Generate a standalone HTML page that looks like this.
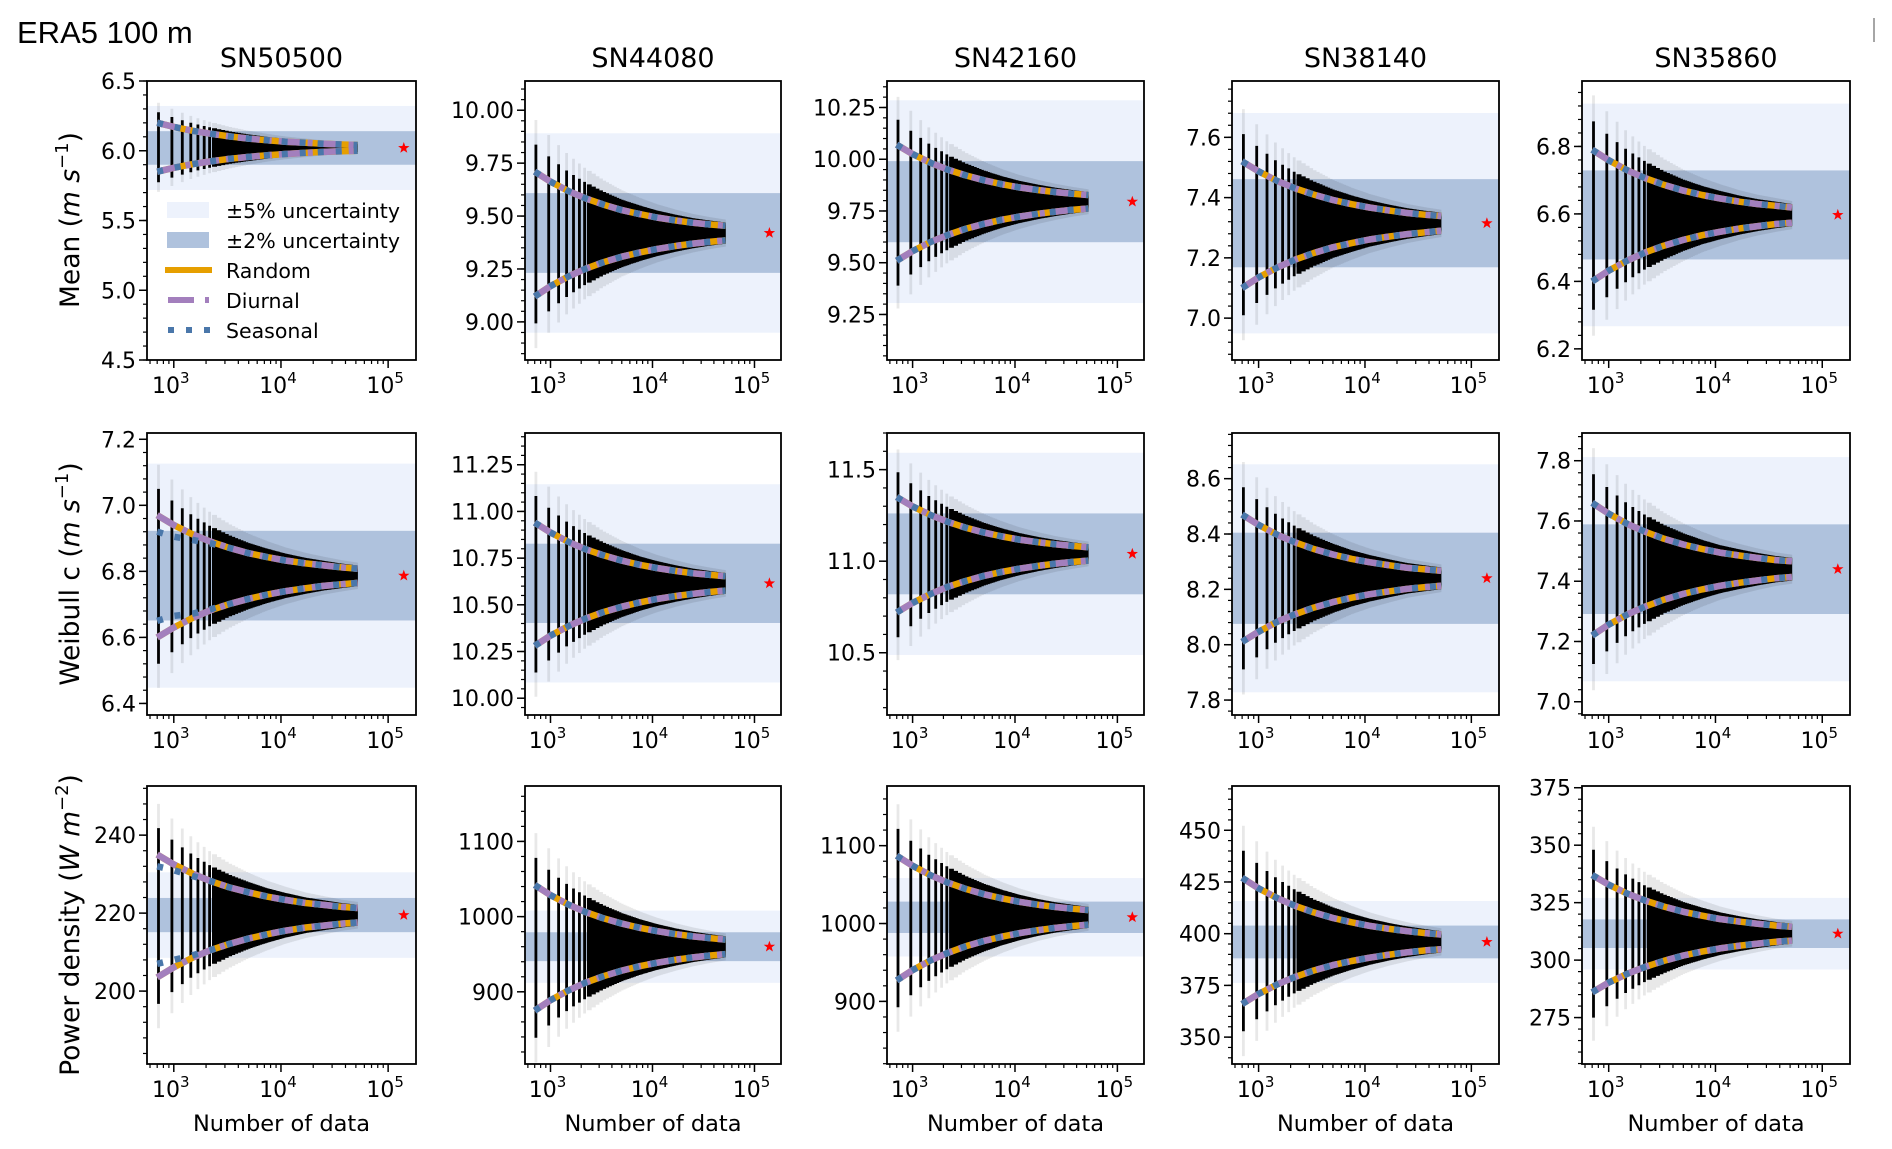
<!DOCTYPE html>
<html><head><meta charset="utf-8">
<style>
html,body{margin:0;padding:0;background:#fff;}
svg{display:block;font-family:"DejaVu Sans","Liberation Sans",sans-serif;}
</style></head>
<body>
<svg id="fig" xmlns="http://www.w3.org/2000/svg" width="1892" height="1149" viewBox="0 0 1892 1149">
<rect x="0" y="0" width="1892" height="1149" fill="#fff"/>
<text x="17" y="43" font-family="Liberation Sans, sans-serif" font-size="31" fill="#000">ERA5 100 m</text>
<line x1="1874" y1="18" x2="1874" y2="42" stroke="#888" stroke-width="1.5"/>
</svg>
<script>
// ---- data ----
const sampleN = [700,1000,1500,2200,3300,5000,7500,11000,17000,25000,37000,52000];
const stations = ["SN50500","SN44080","SN42160","SN38140","SN35860"];
const refMean = [6.02,9.42,9.795,7.315,6.597];
const refWeib = [6.787,10.615,11.04,8.24,7.44];
const refPow = [219.5,960,1008,396,311.5];
const meanUp = [
 [6.200,6.171,6.143,6.122,6.103,6.087,6.075,6.065,6.057,6.050,6.045,6.041],
 [9.710,9.663,9.618,9.584,9.554,9.528,9.509,9.493,9.479,9.468,9.460,9.454],
 [10.070,10.025,9.983,9.950,9.922,9.898,9.879,9.864,9.851,9.841,9.833,9.827],
 [7.520,7.487,7.455,7.431,7.410,7.392,7.378,7.367,7.357,7.349,7.343,7.339],
 [6.790,6.759,6.729,6.706,6.686,6.669,6.656,6.646,6.636,6.629,6.624,6.619]];
const meanLo = [
 [5.850,5.878,5.904,5.924,5.942,5.956,5.968,5.977,5.985,5.992,5.997,6.000],
 [9.120,9.169,9.215,9.251,9.282,9.308,9.328,9.344,9.359,9.370,9.379,9.385],
 [9.510,9.556,9.600,9.634,9.664,9.688,9.708,9.723,9.737,9.747,9.756,9.762],
 [7.100,7.135,7.168,7.194,7.216,7.235,7.249,7.261,7.271,7.279,7.285,7.290],
 [6.400,6.432,6.462,6.486,6.506,6.523,6.537,6.547,6.557,6.564,6.570,6.574]];
const weibUp = [
 [6.970,6.940,6.912,6.890,6.871,6.855,6.843,6.833,6.824,6.818,6.812,6.808],
 [10.940,10.887,10.837,10.798,10.765,10.737,10.714,10.697,10.681,10.669,10.660,10.653],
 [11.350,11.299,11.252,11.215,11.183,11.156,11.135,11.118,11.103,11.092,11.083,11.076],
 [8.470,8.433,8.397,8.370,8.346,8.326,8.310,8.298,8.287,8.278,8.272,8.267],
 [7.660,7.624,7.590,7.564,7.541,7.522,7.507,7.495,7.485,7.477,7.470,7.466]];
const weibLo = [
 [6.600,6.630,6.659,6.682,6.701,6.717,6.730,6.740,6.749,6.756,6.761,6.765],
 [10.280,10.335,10.386,10.426,10.461,10.490,10.513,10.531,10.547,10.559,10.569,10.576],
 [10.720,10.772,10.821,10.860,10.892,10.920,10.942,10.959,10.975,10.987,10.996,11.003],
 [8.010,8.047,8.083,8.110,8.134,8.154,8.170,8.182,8.193,8.202,8.208,8.213],
 [7.220,7.256,7.290,7.316,7.339,7.358,7.373,7.385,7.395,7.403,7.410,7.414]];
const powUp = [
 [235.0,232.5,230.1,228.2,226.6,225.3,224.2,223.4,222.6,222.1,221.6,221.3],
 [1042,1028.6,1016,1006.2,997.8,990.7,985.1,980.7,976.6,973.7,971.3,969.5],
 [1087,1074.1,1062,1052.6,1044.4,1037.5,1032.2,1027.9,1024,1021.2,1018.9,1017.2],
 [427,421.9,417.2,413.5,410.3,407.6,405.5,403.8,402.3,401.2,400.3,399.6],
 [337,332.8,328.9,325.9,323.3,321.0,319.3,317.9,316.7,315.8,315.0,314.5]];
const powLo = [
 [203.5,206.1,208.6,210.5,212.1,213.5,214.6,215.5,216.3,216.8,217.3,217.6],
 [875,888.9,901.9,912.1,920.8,928.2,934.0,938.6,942.7,945.8,948.3,950.1],
 [927,940.2,952.7,962.3,970.7,977.7,983.2,987.6,991.6,994.5,996.8,998.6],
 [366,370.9,375.5,379.1,382.2,384.8,386.8,388.4,389.9,391,391.9,392.5],
 [286,290.2,294.1,297.1,299.7,302,303.7,305.1,306.3,307.2,308,308.5]];
const seasWeibUp0 = [6.920,6.905,6.895,6.885,6.871,6.855,6.843,6.833,6.824,6.818,6.812,6.808];
const seasWeibLo0 = [6.650,6.665,6.672,6.685,6.701,6.717,6.730,6.740,6.749,6.756,6.761,6.765];
const seasPowUp0 = [232,231,229.5,228.2,226.6,225.3,224.2,223.4,222.6,222.1,221.6,221.3];
const seasPowLo0 = [207,208,209.2,210.5,212.1,213.5,214.6,215.5,216.3,216.8,217.3,217.6];
const starN = 140000;
const ticksMean = [[4.5,5,5.5,6,6.5],[9,9.25,9.5,9.75,10],[9.25,9.5,9.75,10,10.25],[7,7.2,7.4,7.6],[6.2,6.4,6.6,6.8]];
const ticksWeib = [[6.4,6.6,6.8,7,7.2],[10,10.25,10.5,10.75,11,11.25],[10.5,11,11.5],[7.8,8,8.2,8.4,8.6],[7,7.2,7.4,7.6,7.8]];
const ticksPow = [[200,220,240],[900,1000,1100],[900,1000,1100],[350,375,400,425,450],[275,300,325,350,375]];
const decMean = [1,2,2,1,1], decWeib = [1,2,1,1,1], decPow = [0,0,0,0,0];
const limMean = [[4.5,6.5],[8.82,10.138],[9.03,10.378],[6.861,7.787],[6.167,6.994]];
const limWeib = [[6.365,7.219],[9.91,11.42],[10.16,11.70],[7.746,8.765],[6.956,7.892]];
const limPow = [[181.3,252.6],[804,1173.7],[819.6,1176.6],[337,471.4],[254.8,375.75]];
const xTicks = [3,4,5];

// ---- layout ----
const colX = [[147,416],[525,781],[887,1144],[1232,1499],[1582,1850]];
const rowY = [[81,360],[433,715],[786,1064]];
const XLOG = [2.75,5.26];
const NS = "http://www.w3.org/2000/svg";
const svg = document.getElementById('fig');
function mk(tag, attrs, parent){const e=document.createElementNS(NS,tag);for(const k in attrs)e.setAttribute(k,attrs[k]);(parent||svg).appendChild(e);return e;}

const rows = [
 {ref:refMean, up:meanUp, lo:meanLo, ticks:ticksMean, dec:decMean, lim:limMean, name:'mean'},
 {ref:refWeib, up:weibUp, lo:weibLo, ticks:ticksWeib, dec:decWeib, lim:limWeib, name:'weibull-c'},
 {ref:refPow, up:powUp, lo:powLo, ticks:ticksPow, dec:decPow, lim:limPow, name:'power-density'}];

function interp(arr, n){
  const ln=Math.log10(n);
  if(n<=sampleN[0])return arr[0];
  for(let i=1;i<sampleN.length;i++){
    if(n<=sampleN[i]){const a=Math.log10(sampleN[i-1]),b=Math.log10(sampleN[i]);const t=(ln-a)/(b-a);return arr[i-1]+(arr[i]-arr[i-1])*t;}
  }
  return arr[arr.length-1];
}

rows.forEach((R,ri)=>{
 for(let ci=0;ci<5;ci++){
  const [x0,x1]=colX[ci],[y0,y1]=rowY[ri];
  const [ymin,ymax]=R.lim[ci];
  const xs=v=>x0+(Math.log10(v)-XLOG[0])/(XLOG[1]-XLOG[0])*(x1-x0);
  const ys=v=>y1-(v-ymin)/(ymax-ymin)*(y1-y0);
  const g=mk('g',{});
  
  
  const clipId='c'+ri+ci;
  const cp=mk('clipPath',{id:clipId},g);mk('rect',{x:x0,y:y0,width:x1-x0,height:y1-y0},cp);
  const inner=mk('g',{'clip-path':'url(#'+clipId+')'},g);
  const ref=R.ref[ci];
  const b5=mk('rect',{x:x0,y:ys(ref*1.05),width:x1-x0,height:ys(ref*0.95)-ys(ref*1.05),fill:'#edf2fc'},inner);
  
  
  const b2=mk('rect',{x:x0,y:ys(ref*1.02),width:x1-x0,height:ys(ref*0.98)-ys(ref*1.02),fill:'#afc2dd'},inner);
  
  
  const up=R.up[ci], lo=R.lo[ci];
  const cloud=mk('g',{},inner);
  
  
  let tail='',core='';
  for(let n=720;n<=sampleN[sampleN.length-1];n+=240){
    const u=interp(up,n),l=interp(lo,n);const c=(u+l)/2,h=(u-l)/2;
    const x=xs(n);
    const sp=xs(n+240)-x;
    const w = sp>4.5?2.8:sp+0.6;
    tail+=`M${(x-w/2).toFixed(1)},${ys(c+h*1.85).toFixed(1)}V${ys(c-h*1.85).toFixed(1)}h${w.toFixed(1)}V${ys(c+h*1.85).toFixed(1)}Z`;
    core+=`M${(x-w/2).toFixed(1)},${ys(c+h*1.45).toFixed(1)}V${ys(c-h*1.45).toFixed(1)}h${w.toFixed(1)}V${ys(c+h*1.45).toFixed(1)}Z`;
  }
  mk('path',{d:tail,fill:'#000','fill-opacity':'0.09'},cloud);
  mk('path',{d:core,fill:'#000'},cloud);
  const ptsFor=arr=>sampleN.map((n,i)=>xs(n).toFixed(1)+','+ys(arr[i]).toFixed(1)).join(' ');
  let sUp=up,sLo=lo;
  if(ci===0&&ri===1){sUp=seasWeibUp0;sLo=seasWeibLo0;}
  if(ci===0&&ri===2){sUp=seasPowUp0;sLo=seasPowLo0;}
  const styles=[['random-line','#e69f00',null,up,lo],['diurnal-line','#a37fbd','22,7,5,7',up,lo],['seasonal-line','#4a77aa','6,12',sUp,sLo]];
  styles.forEach(([nm,col,da,aU,aL])=>{
    [aU,aL].forEach((arr,k)=>{
      const pl=mk('polyline',{points:ptsFor(arr),fill:'none',stroke:col,'stroke-width':6.5,'stroke-linejoin':'round'},inner);
      if(da)pl.setAttribute('stroke-dasharray',da);
      
      
    });
  });
  const sx=xs(starN),sy=ys(ref);let sp='';
  for(let k=0;k<10;k++){const r=k%2?2.4:6;const a=-Math.PI/2+k*Math.PI/5;sp+=(k?'L':'M')+(sx+r*Math.cos(a)).toFixed(1)+','+(sy+r*Math.sin(a)).toFixed(1);}
  const st=mk('path',{d:sp+'Z',fill:'#ff0000'},inner);
  
  
  const fr=mk('rect',{x:x0,y:y0,width:x1-x0,height:y1-y0,fill:'none',stroke:'#000','stroke-width':1.8},g);
  
  
  const tk=R.ticks[ci];
  const step=tk[1]-tk[0], minor=step/5;
  for(let v=tk[0]-step*3;v<=tk[tk.length-1]+step*3+1e-9;v+=minor){
    if(v<ymin-1e-9||v>ymax+1e-9)continue;
    mk('line',{x1:x0,x2:x0-4,y1:ys(v),y2:ys(v),stroke:'#000','stroke-width':1.2},g);
  }
  tk.forEach(v=>{
    mk('line',{x1:x0,x2:x0-8,y1:ys(v),y2:ys(v),stroke:'#000','stroke-width':1.5},g);
    const t=mk('text',{x:x0-11,y:ys(v)+8,'text-anchor':'end','font-size':22},g);
    t.textContent=v.toFixed(R.dec[ci]);
    
    
  });
  for(let d=2;d<=5;d++){for(let m=1;m<10;m++){const lv=d+Math.log10(m);if(lv<XLOG[0]||lv>XLOG[1])continue;
    const x=xs(Math.pow(10,lv));mk('line',{x1:x,x2:x,y1:y1,y2:y1+(m===1?8:4),stroke:'#000','stroke-width':m===1?1.5:1.2},g);}}
  xTicks.forEach(p=>{
    const x=xs(Math.pow(10,p));
    const t=mk('text',{x:x-3,y:y1+33,'text-anchor':'middle','font-size':22},g);
    
    
    t.appendChild(document.createTextNode('10'));
    const s=mk('tspan',{'font-size':15,dy:-10},t);s.textContent=String(p);
  });
  if(ri===0){
    const t=mk('text',{x:(x0+x1)/2,y:67,'text-anchor':'middle','font-size':27},g);
    t.textContent=stations[ci];
    
    
  }
  if(ri===2){
    const t=mk('text',{x:(x0+x1)/2,y:1131,'text-anchor':'middle','font-size':22.5},g);
    t.textContent='Number of data';
    
    
  }
 }
});

const ylab=[['Mean (','m s','−1',')',220,'mean'],['Weibull c (','m s','−1',')',574,'weibull-c'],['Power density (','W m','−2',')',925,'power-density']];
ylab.forEach(([a,b,sup,c,cy,nm])=>{
  const t=mk('text',{x:0,y:0,'text-anchor':'middle','font-size':26.5,transform:`translate(79,${cy}) rotate(-90)`});
  
  
  t.appendChild(document.createTextNode(a));
  const i=mk('tspan',{'font-style':'italic'},t);i.textContent=b;
  const s=mk('tspan',{'font-size':18,dy:-11},t);s.textContent=sup;
  const e=mk('tspan',{dy:11},t);e.textContent=c;
});

const lg=mk('g',{});


mk('rect',{x:167,y:202,width:42,height:16,fill:'#edf2fc'},lg);
mk('rect',{x:167,y:232,width:42,height:16,fill:'#afc2dd'},lg);
mk('line',{x1:165,x2:212,y1:270,y2:270,stroke:'#e69f00','stroke-width':6},lg);
mk('line',{x1:168,x2:212,y1:300,y2:300,stroke:'#a37fbd','stroke-width':6,'stroke-dasharray':'26,11,4,11'},lg);
mk('line',{x1:168,x2:212,y1:330,y2:330,stroke:'#4a77aa','stroke-width':6,'stroke-dasharray':'6,12'},lg);
[['±5% uncertainty',218],['±2% uncertainty',248],['Random',278],['Diurnal',308],['Seasonal',338]].forEach(([s,y])=>{
  const t=mk('text',{x:226,y:y,'font-size':20.5},lg);t.textContent=s;
  
  
});
</script>
</body></html>
